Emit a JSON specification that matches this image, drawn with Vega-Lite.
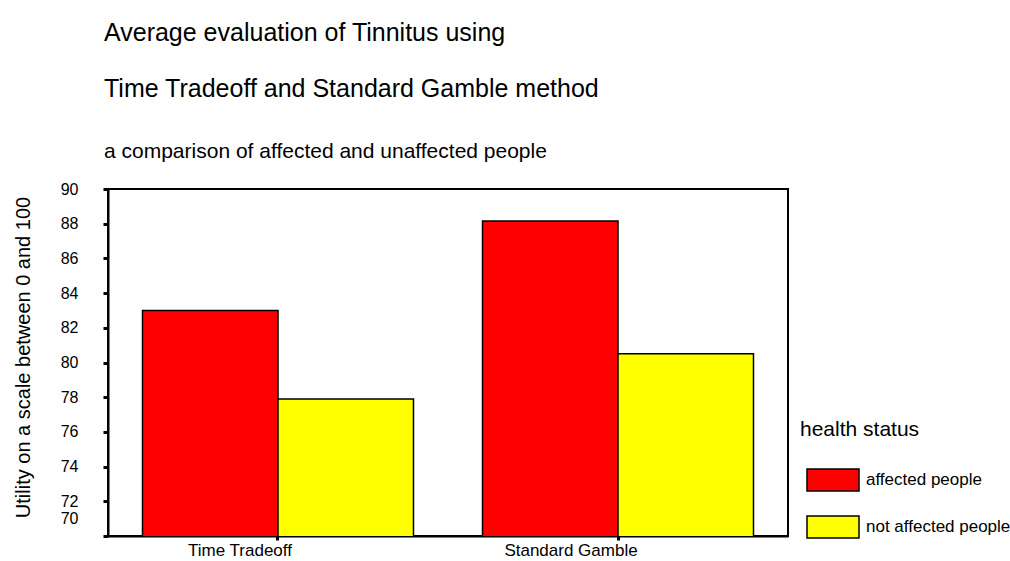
{
  "$schema": "https://vega.github.io/schema/vega-lite/v6.json",
  "autosize": "none",
  "width": 680,
  "height": 347,
  "padding": {"left": 108, "top": 189, "right": 222, "bottom": 25},
  "background": "white",
  "title": {
    "text": ["Average evaluation of Tinnitus using", "Time Tradeoff and Standard Gamble method"],
    "subtitle": "a comparison of affected and unaffected people",
    "anchor": "start",
    "frame": "group",
    "dx": -4,
    "font": "Liberation Sans",
    "fontSize": 25,
    "fontWeight": "normal",
    "color": "black",
    "lineHeight": 56,
    "subtitleFont": "Liberation Sans",
    "subtitleFontSize": 21,
    "subtitleColor": "black",
    "subtitlePadding": 39,
    "offset": 19
  },
  "data": {
    "values": [
      {"method": "Time Tradeoff", "status": "affected people", "utility": 83.0},
      {"method": "Time Tradeoff", "status": "not affected people", "utility": 77.9},
      {"method": "Standard Gamble", "status": "affected people", "utility": 88.15},
      {"method": "Standard Gamble", "status": "not affected people", "utility": 80.5}
    ]
  },
  "mark": {"type": "bar", "stroke": "black", "strokeWidth": 1.5, "clip": true},
  "encoding": {
    "x": {
      "field": "method",
      "type": "nominal",
      "sort": ["Time Tradeoff", "Standard Gamble"],
      "scale": {"paddingInner": 0.203, "paddingOuter": 0.1015},
      "axis": {
        "title": null,
        "labelAngle": 0,
        "labelFont": "Liberation Sans",
        "labelFontSize": 17,
        "labelColor": "black",
        "labelBaseline": "alphabetic",
        "labelPadding": 15,
        "labelOffset": {"expr": "datum.value == 'Time Tradeoff' ? -38 : -47"},
        "domainColor": "black",
        "domainWidth": 2,
        "tickColor": "black",
        "tickWidth": 3,
        "tickSize": 4
      }
    },
    "xOffset": {
      "field": "status",
      "type": "nominal",
      "sort": ["affected people", "not affected people"],
      "scale": {"paddingInner": 0, "paddingOuter": 0}
    },
    "y": {
      "field": "utility",
      "type": "quantitative",
      "scale": {"domain": [70, 90], "zero": false, "nice": false},
      "axis": {
        "values": [70, 72, 74, 76, 78, 80, 82, 84, 86, 88, 90],
        "grid": false,
        "title": "Utility on a scale between 0 and 100",
        "titleFont": "Liberation Sans",
        "titleFontSize": 20,
        "titleFontWeight": "normal",
        "titleColor": "black",
        "titleX": -85,
        "titleY": 168,
        "titleAlign": "center",
        "titleBaseline": "middle",
        "titleAngle": -90,
        "labelFont": "Liberation Sans",
        "labelFontSize": 16,
        "labelColor": "black",
        "labelPadding": 25,
        "labelOffset": {"expr": "datum.value == 70 ? -18 : 0"},
        "domainColor": "black",
        "domainWidth": 2,
        "tickColor": "black",
        "tickWidth": 3,
        "tickSize": 5
      }
    },
    "color": {
      "field": "status",
      "type": "nominal",
      "sort": ["affected people", "not affected people"],
      "scale": {"range": ["#FF0000", "#FFFF00"]},
      "legend": {
        "title": "health status",
        "orient": "none",
        "legendX": 692,
        "legendY": 230,
        "padding": 0,
        "titleFont": "Liberation Sans",
        "titleFontSize": 21,
        "titleFontWeight": "normal",
        "titleColor": "black",
        "titlePadding": 13,
        "labelFont": "Liberation Sans",
        "labelFontSize": 17,
        "labelColor": "black",
        "labelOffset": 6,
        "symbolType": "M-1,-0.4231L1,-0.4231L1,0.4231L-1,0.4231Z",
        "symbolSize": 2704,
        "symbolStrokeColor": "black",
        "symbolStrokeWidth": 1.5,
        "symbolOpacity": 1,
        "symbolOffset": 6,
        "rowPadding": 5
      }
    }
  },
  "config": {
    "view": {"stroke": "black", "strokeWidth": 2},
    "legend": {"symbolFillColor": null}
  }
}
